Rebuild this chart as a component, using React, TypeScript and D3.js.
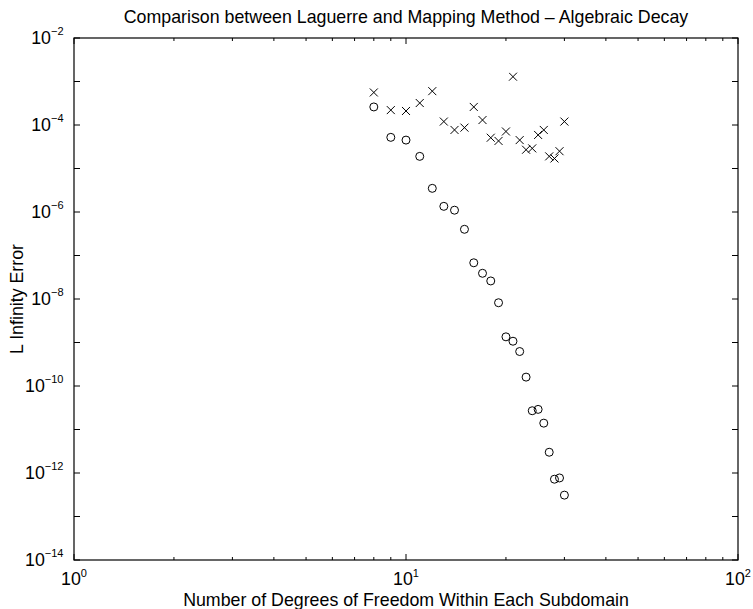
import React, { useEffect, useRef } from "react";
import * as d3 from "d3";

// degrees of freedom per subdomain
const dofValues = [8, 9, 10, 11, 12, 13, 14, 15, 16, 17, 18, 19, 20, 21, 22, 23, 24, 25, 26, 27, 28, 29, 30];

// mapping method error (circles)
const mappingError = [
  2.6e-4, 5.2e-5, 4.5e-5, 1.9e-5, 3.5e-6, 1.35e-6, 1.1e-6, 4.0e-7, 6.8e-8, 3.9e-8, 2.6e-8, 8.2e-9,
  1.35e-9, 1.07e-9, 6.2e-10, 1.6e-10, 2.7e-11, 2.9e-11, 1.4e-11, 3.0e-12, 7.2e-13, 7.7e-13, 3.1e-13,
];

// laguerre error (crosses)
const laguerreError = [
  5.6e-4, 2.2e-4, 2.1e-4, 3.2e-4, 6.0e-4, 1.2e-4, 7.7e-5, 8.7e-5, 2.6e-4, 1.3e-4, 5.1e-5, 4.3e-5,
  7.1e-5, 1.29e-3, 4.5e-5, 2.7e-5, 2.9e-5, 5.9e-5, 7.7e-5, 1.9e-5, 1.7e-5, 2.5e-5, 1.2e-4,
];

const xDomain = [1, 100];
const yDomain = [1e-14, 1e-2];
const xTickExponents = [0, 1, 2];
const yTickExponents = [-14, -12, -10, -8, -6, -4, -2];

const title = "Comparison between Laguerre and Mapping Method \u2013 Algebraic Decay";
const xLabel = "Number of Degrees of Freedom Within Each Subdomain";
const yLabel = "L Infinity Error";

const App = () => {
  const svgRef = useRef<SVGSVGElement>(null);
  const width = 753;
  const height = 609;

  useEffect(() => {
    const margin = { top: 38, right: 15, bottom: 49, left: 74 };
    const innerWidth = width - margin.left - margin.right;
    const innerHeight = height - margin.top - margin.bottom;
    const font = "'Liberation Sans', Arial, Helvetica, sans-serif";
    const fontSize = 17.8;
    const expSize = 11;

    const svg = d3.select(svgRef.current);
    svg.selectAll("*").remove();

    const g = svg.append("g").attr("transform", `translate(${margin.left},${margin.top})`);

    const xScale = d3.scaleLog().domain(xDomain).range([0, innerWidth]);
    const yScale = d3.scaleLog().domain(yDomain).range([innerHeight, 0]);

    // ticks: decades are major, 2..9 minor on x; every decade on y
    const xMajor = [1, 10, 100];
    const xMinor: number[] = [];
    [1, 10].forEach((d) => {
      for (let k = 2; k <= 9; k++) xMinor.push(d * k);
    });
    const yMajor: number[] = [];
    for (let e = -14; e <= -2; e++) yMajor.push(Math.pow(10, e));

    const majorLen = 6;
    const minorLen = 3;
    const axisColor = "#000";

    const ticks = g.append("g").attr("stroke", axisColor).attr("stroke-width", 1);
    xMajor.forEach((v) => {
      const x = xScale(v);
      ticks.append("line").attr("x1", x).attr("x2", x).attr("y1", innerHeight).attr("y2", innerHeight - majorLen);
      ticks.append("line").attr("x1", x).attr("x2", x).attr("y1", 0).attr("y2", majorLen);
    });
    xMinor.forEach((v) => {
      const x = xScale(v);
      ticks.append("line").attr("x1", x).attr("x2", x).attr("y1", innerHeight).attr("y2", innerHeight - minorLen);
      ticks.append("line").attr("x1", x).attr("x2", x).attr("y1", 0).attr("y2", minorLen);
    });
    yMajor.forEach((v) => {
      const y = yScale(v);
      ticks.append("line").attr("x1", 0).attr("x2", majorLen).attr("y1", y).attr("y2", y);
      ticks.append("line").attr("x1", innerWidth).attr("x2", innerWidth - majorLen).attr("y1", y).attr("y2", y);
    });

    // box
    g.append("rect")
      .attr("x", 0)
      .attr("y", 0)
      .attr("width", innerWidth)
      .attr("height", innerHeight)
      .attr("fill", "none")
      .attr("stroke", axisColor)
      .attr("stroke-width", 1.2);

    // tick labels, 10 with a raised exponent
    const supLabel = (sel: any, exp: number) => {
      sel.append("tspan").text("10");
      sel
        .append("tspan")
        .attr("dy", -8.5)
        .style("font-size", `${expSize}px`)
        .text(exp < 0 ? `\u2212${-exp}` : `${exp}`);
    };

    xTickExponents.forEach((e) => {
      const t = g
        .append("text")
        .attr("x", xScale(Math.pow(10, e)))
        .attr("y", innerHeight + 25)
        .attr("text-anchor", "middle")
        .style("font-family", font)
        .style("font-size", `${fontSize}px`)
        .attr("fill", "#000");
      supLabel(t, e);
    });

    yTickExponents.forEach((e) => {
      const t = g
        .append("text")
        .attr("x", -10.5)
        .attr("y", yScale(Math.pow(10, e)) + 5.5)
        .attr("text-anchor", "end")
        .style("font-family", font)
        .style("font-size", `${fontSize}px`)
        .attr("fill", "#000");
      supLabel(t, e);
    });

    // circles
    g.selectAll("circle.mapping")
      .data(dofValues.map((n, i) => ({ n, v: mappingError[i] })))
      .enter()
      .append("circle")
      .attr("class", "mapping")
      .attr("cx", (d) => xScale(d.n))
      .attr("cy", (d) => yScale(d.v))
      .attr("r", 4)
      .attr("fill", "none")
      .attr("stroke", "#000")
      .attr("stroke-width", 1);

    // crosses
    const s = 4;
    g.selectAll("path.laguerre")
      .data(dofValues.map((n, i) => ({ n, v: laguerreError[i] })))
      .enter()
      .append("path")
      .attr("class", "laguerre")
      .attr("d", (d) => {
        const x = xScale(d.n);
        const y = yScale(d.v);
        return `M${x - s},${y - s}L${x + s},${y + s}M${x - s},${y + s}L${x + s},${y - s}`;
      })
      .attr("fill", "none")
      .attr("stroke", "#000")
      .attr("stroke-width", 1);

    svg
      .append("text")
      .attr("x", margin.left + innerWidth / 2)
      .attr("y", 23)
      .attr("text-anchor", "middle")
      .style("font-family", font)
      .style("font-size", `${fontSize}px`)
      .text(title);

    svg
      .append("text")
      .attr("x", margin.left + innerWidth / 2)
      .attr("y", 606)
      .attr("text-anchor", "middle")
      .style("font-family", font)
      .style("font-size", `${fontSize}px`)
      .text(xLabel);

    svg
      .append("text")
      .attr("transform", "rotate(-90)")
      .attr("x", -(margin.top + innerHeight / 2))
      .attr("y", 22.5)
      .attr("text-anchor", "middle")
      .style("font-family", font)
      .style("font-size", `${fontSize}px`)
      .text(yLabel);
  }, []);

  return (
    <div style={{ position: "absolute", left: 0, top: 0, background: "#fff" }}>
      <svg ref={svgRef} width={width} height={height} style={{ display: "block" }} />
    </div>
  );
};

export default App;
